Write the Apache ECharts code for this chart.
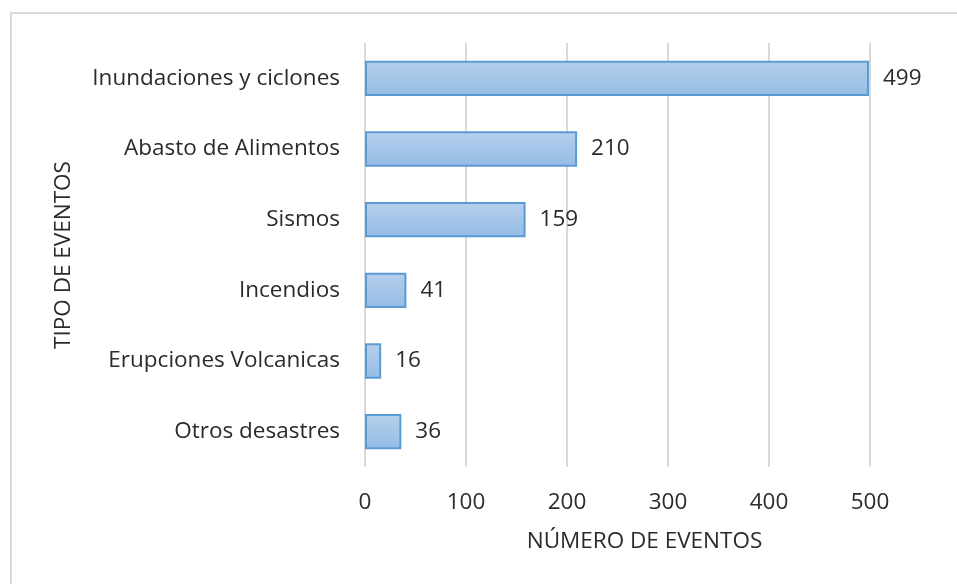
<!DOCTYPE html>
<html><head><meta charset="utf-8">
<script src="https://cdn.jsdelivr.net/npm/echarts@6/dist/echarts.min.js"></script>
<style>html,body{margin:0;padding:0;background:#fff}#c{width:957px;height:584px}</style>
</head><body><div id="c"></div>
<script>
const categories = ["Inundaciones y ciclones","Abasto de Alimentos","Sismos","Incendios","Erupciones Volcanicas","Otros desastres"];
const values = [499, 210, 159, 41, 16, 36];
const xTicks = [0, 100, 200, 300, 400, 500];
const FONT = "Open Sans";
const FS = 22.5;
const TC = '#2b2b2b';
const chart = echarts.init(document.getElementById('c'), null, {renderer:'canvas'});
chart.setOption({
  backgroundColor:'#fff',
  animation:false,
  textStyle:{fontFamily:FONT},
  graphic:[{type:'rect',shape:{x:11,y:13,width:1100,height:1100},style:{fill:'none',stroke:'#d9d9d9',lineWidth:2},z:-1}],
  grid:{left:365,right:87,top:43,bottom:117,containLabel:false},
  xAxis:{type:'value',min:xTicks[0],max:xTicks[xTicks.length-1],interval:100,
    name:'NÚMERO DE EVENTOS',nameLocation:'middle',nameGap:63,
    nameTextStyle:{fontFamily:FONT,fontSize:FS,color:TC,padding:[0,0,0,54]},
    axisLine:{show:false},axisTick:{show:false},
    axisLabel:{fontFamily:FONT,fontSize:FS,color:TC,margin:24},
    splitLine:{show:true,lineStyle:{color:'#d9d9d9',width:2}}},
  yAxis:{type:'category',data:categories,inverse:true,
    name:'TIPO DE EVENTOS',nameLocation:'middle',nameGap:290,nameRotate:90,
    nameTextStyle:{fontFamily:FONT,fontSize:FS,color:TC},
    axisLine:{show:false},axisTick:{show:false},
    axisLabel:{fontFamily:FONT,fontSize:FS,color:TC,margin:25}},
  series:[{type:'bar',data:values,barWidth:'50%',
    itemStyle:{color:new echarts.graphic.LinearGradient(0,0,0,1,[{offset:0,color:'#b6cfeb'},{offset:1,color:'#94bce5'}]),
      borderColor:'#5b9bd5',borderWidth:2},
    label:{show:true,position:'right',distance:14,fontFamily:FONT,fontSize:FS,color:TC}}]
});
</script></body></html>
